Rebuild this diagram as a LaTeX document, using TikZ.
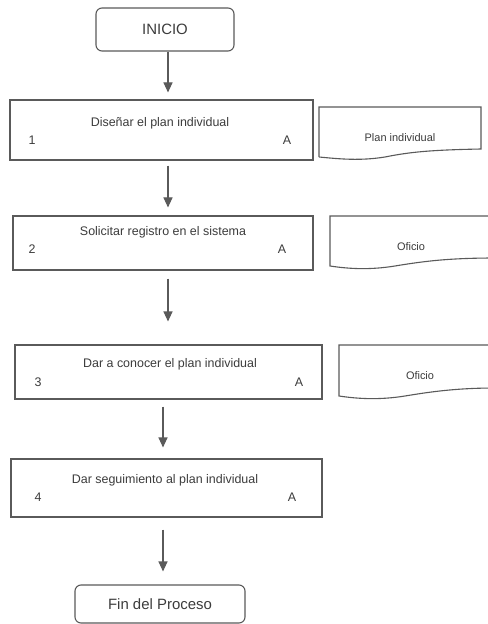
\documentclass[tikz,border=0pt]{standalone}
\usepackage{fontspec}
\setmainfont{Liberation Sans}
\usetikzlibrary{arrows.meta}
\definecolor{ink}{HTML}{5A5A5A}
\definecolor{txt}{HTML}{3C3C3C}
\begin{document}
\begin{tikzpicture}[x=1bp,y=-1bp,
  line/.style={draw=ink, line width=1.1bp},
  terminal/.style={line, rounded corners=6bp, inner sep=0pt, text=txt,
    font=\fontsize{15}{18}\selectfont},
  stepbox/.style={line, inner sep=0pt},
  steptext/.style={inner sep=0pt, text=txt, font=\fontsize{12.5}{15}\selectfont},
  doctext/.style={inner sep=0pt, text=txt, font=\fontsize{11}{13}\selectfont},
  flow/.style={draw=ink, line width=1.1bp, -{Triangle[length=10bp,width=9bp]}}
]
\clip (0,0) rectangle (488,624);
\fill[white] (0,0) rectangle (488,624);

% terminals
\node[terminal, minimum width=138bp, minimum height=43bp] (inicio) at (165,29.5) {INICIO};
\node[terminal, minimum width=170bp, minimum height=38bp] (fin) at (160,604) {Fin del Proceso};

% process steps
\node[stepbox, minimum width=303bp, minimum height=60bp] (s1) at (161.5,130) {};
\node[steptext] (s1t) at (160,123) {Diseñar el plan individual};
\node[steptext] (s1n) at (32,140) {1};
\node[steptext] (s1a) at (287,140) {A};

\node[stepbox, minimum width=300bp, minimum height=54bp] (s2) at (163,243) {};
\node[steptext] (s2t) at (163,232) {Solicitar registro en el sistema};
\node[steptext] (s2n) at (32,249) {2};
\node[steptext] (s2a) at (282,249) {A};

\node[stepbox, minimum width=307bp, minimum height=54bp] (s3) at (168.5,372) {};
\node[steptext] (s3t) at (170,364) {Dar a conocer el plan individual};
\node[steptext] (s3n) at (38,382) {3};
\node[steptext] (s3a) at (299,382) {A};

\node[stepbox, minimum width=311bp, minimum height=58bp] (s4) at (166.5,488) {};
\node[steptext] (s4t) at (165,480) {Dar seguimiento al plan individual};
\node[steptext] (s4n) at (38,497) {4};
\node[steptext] (s4a) at (292,497) {A};

% documents
\draw[line] (319,157) -- (319,107) -- (481,107) -- (481,149)
  .. controls (430,150) and (410,152) .. (385,157)
  .. controls (360,161) and (340,159) .. (319,157);
\node[doctext] (d1) at (400,138) {Plan individual};

\draw[line] (496,258) -- (496,216) -- (330,216) -- (330,266)
  .. controls (350,269) and (370,270) .. (395,266)
  .. controls (425,261) and (450,258) .. (496,258);
\node[doctext] (d2) at (411,247) {Oficio};

\draw[line] (496,388) -- (496,345) -- (339,345) -- (339,396)
  .. controls (359,399) and (380,400) .. (405,396)
  .. controls (435,391) and (460,388) .. (496,388);
\node[doctext] (d3) at (420,376) {Oficio};

% connectors
\draw[flow, shorten >=7bp] ([xshift=3bp]inicio.south) -- ([xshift=3bp]inicio.south |- s1.north);
\draw[flow, shorten <=5bp, shorten >=8bp] ([xshift=6.5bp]s1.south) -- ([xshift=6.5bp]s1.south |- s2.north);
\draw[flow, shorten <=8bp, shorten >=23bp] ([xshift=5bp]s2.south) -- ([xshift=5bp]s2.south |- s3.north);
\draw[flow, shorten <=7bp, shorten >=11bp] ([xshift=-5.5bp]s3.south) -- ([xshift=-5.5bp]s3.south |- s4.north);
\draw[flow, shorten <=12bp, shorten >=13bp] ([xshift=-3.5bp]s4.south) -- ([xshift=-3.5bp]s4.south |- fin.north);
\end{tikzpicture}
\end{document}
